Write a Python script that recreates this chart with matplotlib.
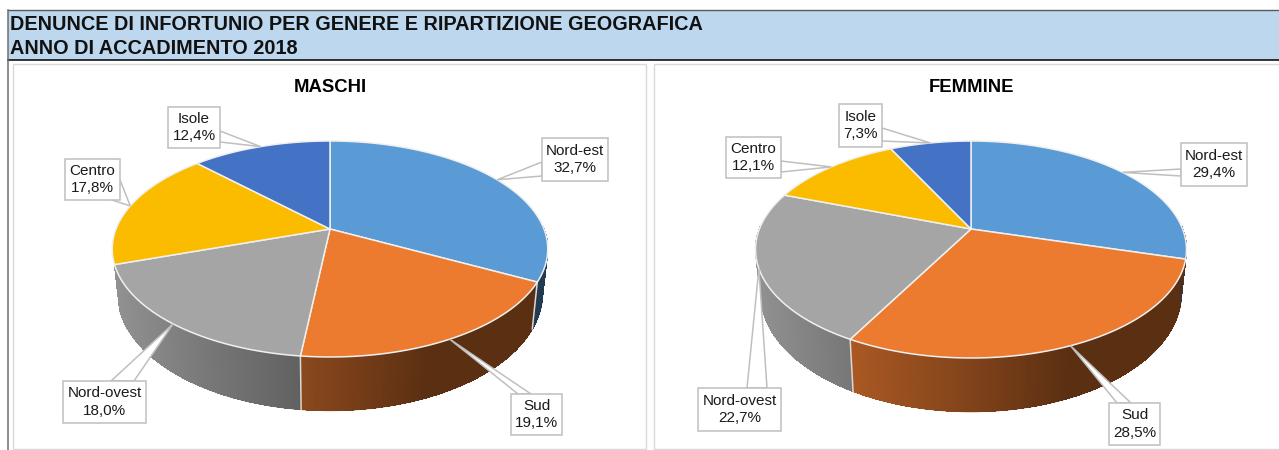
import numpy as np
import matplotlib
matplotlib.use('Agg')
import matplotlib.pyplot as plt
from matplotlib.collections import LineCollection, PolyCollection
from matplotlib.patches import Polygon, Rectangle

plt.rcParams['font.family'] = ['Liberation Sans', 'DejaVu Sans']

# data, clockwise from 12 o'clock
categories = ['Nord-est', 'Sud', 'Nord-ovest', 'Centro', 'Isole']
maschi = [32.7, 19.1, 18.0, 17.8, 12.4]
femmine = [29.4, 28.5, 22.7, 12.1, 7.3]
value_labels_m = ['32,7%', '19,1%', '18,0%', '17,8%', '12,4%']
value_labels_f = ['29,4%', '28,5%', '22,7%', '12,1%', '7,3%']

colors = ['#5B9BD5', '#EC7B30', '#A5A5A5', '#FBBC00', '#4472C4']

# label boxes (x0, y0, x1, y1) and where the callout leaves the box, in pixels
boxes_m = [(542, 138, 608, 181), (511, 394, 562, 435), (63, 381, 146, 423), (65, 159, 120, 200), (168, 107, 220, 148)]
bases_m = [[(542, 162), (542, 176)], [(518, 394), (531, 394)], [(111, 381), (134, 381)],
           [(120, 180), (112, 200)], [(220, 131), (220, 142)]]
boxes_f = [(1181, 143, 1247, 186), (1109, 403, 1160, 445), (698, 388, 781, 431), (726, 137, 781, 178), (839, 104, 882, 147)]
bases_f = [[(1181, 169), (1181, 176)], [(1117, 403), (1131, 403)], [(747, 388), (767, 388)],
           [(781, 161), (781, 172)], [(882, 128), (882, 141)]]


def project(theta, geo, lower=False):
    # circle seen in perspective, the apex is not in the middle of the ellipse
    u, v = np.sin(theta), np.cos(theta)
    w = 1 + geo['k'] * v
    x = geo['a'] * u / w
    y = geo['b'] * v / w
    if lower:
        x = x * 0.976
        y = y * 1.09 - 42
    return geo['cx'] + x, geo['cy'] - y


def shade(xrel):
    return np.interp(xrel, [-215, -120, -30, 100, 215], [0.88, 0.72, 0.59, 0.38, 0.38])


def draw_pie(ax, values, geo, title, boxes, bases, value_labels):
    edges = np.radians(np.cumsum([0] + list(values)) / sum(values) * 360)
    polys, cols, order, rim = [], [], [], []
    # Centro and Isole sit at the back, their sides don't show
    for i in range(3):
        ts = np.arange(edges[i], edges[i + 1], np.radians(0.25))
        ts = np.append(ts, edges[i + 1])
        base = np.array(matplotlib.colors.to_rgb(colors[i]))
        for t0, t1 in zip(ts[:-1], ts[1:]):
            if np.cos(t0) > 0.03 or np.cos(t1) > 0.03:
                continue
            x0, y0 = project(t0, geo)
            x1, y1 = project(t1, geo)
            x2, y2 = project(t1, geo, True)
            x3, y3 = project(t0, geo, True)
            polys.append([(x0, y0), (x1, y1), (x2, y2), (x3, y3)])
            cols.append(base * shade((x0 + x1) / 2 - geo['cx']))
            order.append(-np.cos((t0 + t1) / 2))
            rim.append([(x3, y3), (x2, y2)])
    idx = np.argsort(order)
    ax.add_collection(PolyCollection([polys[j] for j in idx], facecolors=[cols[j] for j in idx],
                                     edgecolors=[cols[j] for j in idx], linewidths=0.3,
                                     antialiaseds=False, zorder=2))
    # soft lower edge, the strips above are not antialiased
    ax.add_collection(LineCollection(rim, colors=cols, linewidths=0.9, zorder=2.5))

    # light line down the side where two slices meet
    for t in edges[1:-1]:
        if np.cos(t) < -0.35:
            xa, ya = project(t, geo)
            xb, yb = project(t, geo, True)
            ax.plot([xa, xb], [ya, yb], color='#D9D9D9', lw=1.1, zorder=3)

    for i in range(len(values)):
        ts = np.linspace(edges[i], edges[i + 1], 150)
        xs, ys = project(ts, geo)
        pts = [(geo['cx'], geo['cy'])] + list(zip(xs, ys))
        ax.add_patch(Polygon(pts, closed=True, facecolor=colors[i], edgecolor='#F0F0F0', lw=1.1,
                             joinstyle='round', zorder=4))

    ax.text(geo['cx'], 87, title, ha='center', va='center', fontsize=13.3, fontweight='bold', color='black', zorder=8)

    # callouts
    for i in range(len(values)):
        tip = project((edges[i] + edges[i + 1]) / 2, geo)
        ax.add_patch(Polygon([bases[i][0], tip, bases[i][1]], closed=True, facecolor='white',
                             edgecolor='#BFBFBF', lw=1.1, zorder=5))
        x0, y0, x1, y1 = boxes[i]
        ax.add_patch(Rectangle((x0, y0), x1 - x0, y1 - y0, facecolor='white', edgecolor='#BFBFBF', lw=1.1, zorder=6))
        ax.text((x0 + x1) / 2, (y0 + y1) / 2, categories[i] + '\n' + value_labels[i], ha='center', va='center',
                fontsize=11, color='#1A1A1A', linespacing=1.3, zorder=7)


fig = plt.figure(figsize=(12.79, 4.5), dpi=100)
ax = fig.add_axes([0, 0, 1, 1])
ax.set_xlim(0, 1279)
ax.set_ylim(450, 0)
ax.axis('off')

# banner and panels
ax.add_patch(Rectangle((7.5, 10), 1280, 50, facecolor='#BDD7EE', edgecolor='none', zorder=1))
ax.plot([7.5, 1279], [10, 10], color='#5A5A5A', lw=1, zorder=1.5)
ax.plot([7.5, 1279], [60, 60], color='black', lw=1.1, zorder=1.5)
ax.plot([7.5, 7.5], [10, 450], color='#6E6E6E', lw=1.1, zorder=1.5)
ax.add_patch(Rectangle((12.5, 64), 633.5, 385, facecolor='white', edgecolor='#D9D9D9', lw=1, zorder=1))
ax.add_patch(Rectangle((653.5, 64), 640, 385, facecolor='white', edgecolor='#D9D9D9', lw=1, zorder=1))

ax.text(10, 24, 'DENUNCE DI INFORTUNIO PER GENERE E RIPARTIZIONE GEOGRAFICA', ha='left', va='center',
        fontsize=14.3, fontweight='bold', color='#111111', zorder=8)
ax.text(10, 49, 'ANNO DI ACCADIMENTO 2018', ha='left', va='center',
        fontsize=14.3, fontweight='bold', color='#111111', zorder=8)

geo_m = {'cx': 330, 'cy': 229, 'a': 214, 'b': 104.3, 'k': 0.185}
geo_f = {'cx': 971, 'cy': 229, 'a': 211.6, 'b': 104.6, 'k': 0.189}
draw_pie(ax, maschi, geo_m, 'MASCHI', boxes_m, bases_m, value_labels_m)
draw_pie(ax, femmine, geo_f, 'FEMMINE', boxes_f, bases_f, value_labels_f)

fig.savefig('out.png', dpi=100)
